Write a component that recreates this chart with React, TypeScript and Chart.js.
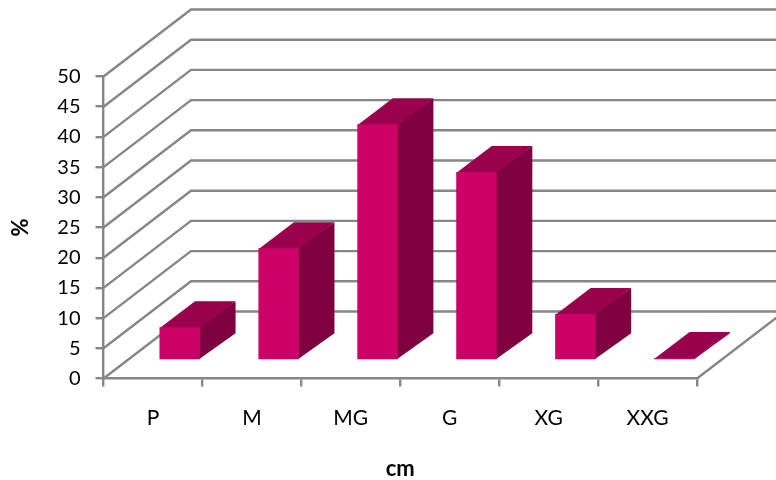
import { useEffect, useRef } from "react";
import { Chart, registerables } from "chart.js";

Chart.register(...registerables);

const categories = ["P", "M", "MG", "G", "XG", "XXG"];
const percentages = [5.5, 18.6, 39.1, 31.2, 7.7, 0.4];
const yMin = 0;
const yMax = 50;
const yStep = 5;

const AXIS_COLOR = "#868686";
const FRONT_COLOR = "#CC0066";
const TOP_COLOR = "#99004D";
const SIDE_COLOR = "#7F0040";
const FONT_FAMILY = "Lato";

// Projection of the chart's depth axis onto the canvas.
const WALL_DX = 87.5;
const WALL_DY = -67;
const BAR_SHIFT_X = 26.8;
const BAR_SHIFT_Y = -18;
const BAR_DEPTH_X = 35.5;
const BAR_DEPTH_Y = -26;

function polygon(ctx: CanvasRenderingContext2D, pts: number[][], fill: string) {
  ctx.beginPath();
  pts.forEach(([x, y], i) => (i ? ctx.lineTo(x, y) : ctx.moveTo(x, y)));
  ctx.closePath();
  ctx.fillStyle = fill;
  ctx.fill();
}

// Back wall, side wall and floor lines, derived from the axis scales.
const wallsPlugin = {
  id: "walls",
  beforeDatasetsDraw(chart: any) {
    const { ctx, chartArea, scales } = chart;
    const yScale = scales.y;
    ctx.save();
    ctx.strokeStyle = AXIS_COLOR;
    ctx.lineWidth = 2.4;
    yScale.ticks.forEach((_: any, i: number) => {
      const y = yScale.getPixelForTick(i);
      ctx.beginPath();
      ctx.moveTo(chartArea.left, y);
      ctx.lineTo(chartArea.left + WALL_DX, y + WALL_DY);
      ctx.lineTo(chart.width, y + WALL_DY);
      ctx.stroke();
    });
    ctx.beginPath();
    ctx.moveTo(chartArea.right, chartArea.bottom);
    ctx.lineTo(chartArea.right + WALL_DX, chartArea.bottom + WALL_DY);
    ctx.stroke();
    ctx.restore();
  },
};

// Moves the bars into the middle of the floor and adds their top and side faces.
const prismPlugin = {
  id: "prism",
  beforeDatasetDraw(chart: any, args: any) {
    const { ctx } = chart;
    ctx.save();
    ctx.translate(BAR_SHIFT_X, BAR_SHIFT_Y);
    args.meta.data.forEach((bar: any) => {
      const l = bar.x - bar.width / 2;
      const r = bar.x + bar.width / 2;
      const t = bar.y;
      const b = bar.base;
      const dx = BAR_DEPTH_X;
      const dy = BAR_DEPTH_Y;
      // Faces overlap the front by a pixel so no seam shows along the shared edges.
      polygon(ctx, [[r - 1, t], [r + dx, t + dy], [r + dx, b + dy], [r - 1, b]], SIDE_COLOR);
      polygon(ctx, [[l, t + 1], [l + dx, t + dy], [r + dx, t + dy], [r, t + 1]], TOP_COLOR);
    });
  },
  afterDatasetDraw(chart: any) {
    chart.ctx.restore();
  },
};

export default function App() {
  const canvasRef = useRef<HTMLCanvasElement>(null);

  useEffect(() => {
    const canvas = canvasRef.current;
    if (!canvas) return;
    const tickFontY = { family: FONT_FAMILY, size: 20 };
    const tickFontX = { family: FONT_FAMILY, size: 21 };
    const titleFont = { family: FONT_FAMILY, size: 22, weight: "bold" };
    const chart = new Chart(canvas, {
      type: "bar",
      data: {
        labels: categories,
        datasets: [
          {
            data: percentages,
            backgroundColor: FRONT_COLOR,
            borderWidth: 0,
            barPercentage: 0.41,
            categoryPercentage: 1,
            clip: false,
          } as any,
        ],
      },
      options: {
        responsive: false,
        animation: false,
        layout: { padding: { top: 76.5, right: 79, bottom: 0, left: 0 } },
        plugins: { legend: { display: false }, tooltip: { enabled: false } },
        scales: {
          x: {
            afterFit(scale: any) {
              scale.height = 101.5;
            },
            grid: { drawOnChartArea: false, color: AXIS_COLOR, lineWidth: 2.4, tickLength: 8 },
            border: { color: AXIS_COLOR, width: 2.4 },
            ticks: { font: tickFontX, color: "#000", padding: 19, maxRotation: 0 },
            title: {
              display: true,
              text: "cm",
              color: "#000",
              font: titleFont,
              padding: { top: 0, bottom: -2 },
            },
          },
          y: {
            min: yMin,
            max: yMax,
            afterFit(scale: any) {
              scale.width = 103.5;
            },
            grid: { drawOnChartArea: false, color: AXIS_COLOR, lineWidth: 2.4, tickLength: 8 },
            border: { color: AXIS_COLOR, width: 2.4 },
            ticks: { stepSize: yStep, font: tickFontY, color: "#000", padding: 15 },
            title: {
              display: true,
              text: "%",
              color: "#000",
              font: titleFont,
              padding: { top: 8, bottom: 0 },
            },
          },
        },
      },
      plugins: [wallsPlugin, prismPlugin],
    } as any);
    return () => chart.destroy();
  }, []);

  return (
    <canvas
      ref={canvasRef}
      width={776}
      height={480}
      style={{ position: "absolute", left: 0, top: 0, display: "block" }}
    />
  );
}
